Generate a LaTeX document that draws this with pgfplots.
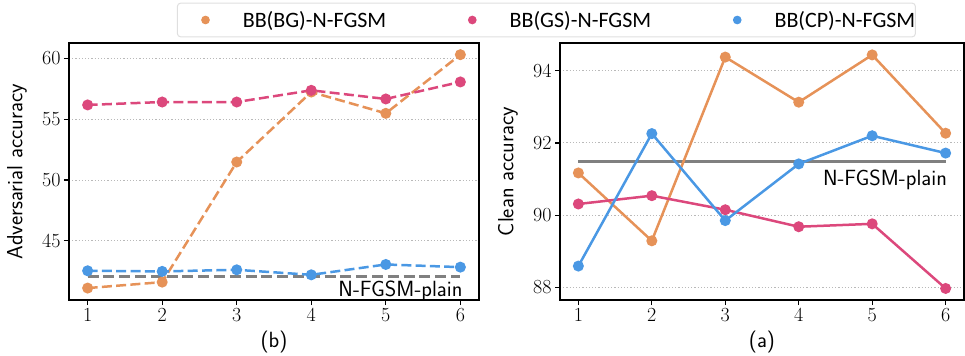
\documentclass[border=0pt]{standalone}
\usepackage{fontspec}
\usepackage{pgfplots}
\pgfplotsset{compat=1.18}
\newfontfamily\legfont{Carlito}
\definecolor{cO}{RGB}{230,146,88}
\definecolor{cP}{RGB}{220,72,124}
\definecolor{cB}{RGB}{74,152,228}
\definecolor{cG}{RGB}{128,128,128}
\pgfplotsset{
  myax/.style={
    scale only axis, width=410bp, height=257bp,
    anchor=south west,
    xmin=0.75, xmax=6.25, xtick={1,2,3,4,5,6},
    axis line style={line width=1.3bp},
    every tick/.style={black, line width=1.2bp},
    major tick length=5bp, tick align=outside,
    xtick pos=bottom, ytick pos=left,
    ymajorgrids, grid style={line width=1bp, gray!55, dash pattern=on 1.2bp off 2bp},
    /pgf/number format/assume math mode=true,
    tick label style={font=\rmfamily\fontsize{20bp}{24bp}\selectfont},
    label style={font=\sffamily\fontsize{22bp}{26bp}\selectfont},
    xlabel style={at={(axis description cs:0.5,0)}, anchor=center, yshift=-42bp},
    clip=false,
  },
  ln/.style={line width=2.5bp, color=#1, mark=*, mark size=4.2bp, mark options={solid, draw=none, fill=#1}},
  dsh/.style={dash pattern=on 10bp off 4.3bp},
}
\begin{document}
\begin{tikzpicture}
\useasboundingbox (0,0) rectangle (965bp,356bp);
% ---------------- left panel (b)
\begin{axis}[myax, at={(69bp,56bp)},
  ymin=40.14, ymax=61.26, ytick={45,50,55,60},
  xlabel={(b)}, ylabel={Adversarial accuracy},
  ylabel style={at={(axis description cs:-0.1268,0.5)}, anchor=center},
  legend columns=3,
  legend image code/.code={\path[draw=none, fill=none] (-28bp,-4bp) rectangle (4bp,4bp); \fill (0bp,0bp) circle (3.8bp);},
  legend style={at={(axis description cs:0.2634,1.0895)}, anchor=west,
    draw=gray!25, line width=1bp, rounded corners=3bp, inner xsep=0bp, inner ysep=8bp,
    font=\legfont\fontsize{22bp}{26bp}\selectfont,
    nodes={inner sep=0pt, anchor=west},
    /tikz/every odd column/.append style={column sep=33bp},
    /tikz/every even column/.append style={column sep=58bp}},
]
\addplot[cG, line width=3bp, dash pattern=on 11bp off 4.8bp, forget plot] coordinates {(1,42.05)(6,42.05)};
\addplot[ln=cO, dsh, forget plot] coordinates {(1,41.12)(2,41.61)(3,51.48)(4,57.23)(5,55.48)(6,60.30)};
\addplot[ln=cP, dsh, forget plot] coordinates {(1,56.17)(2,56.41)(3,56.41)(4,57.37)(5,56.66)(6,58.06)};
\addplot[ln=cB, dsh, forget plot] coordinates {(1,42.54)(2,42.49)(3,42.62)(4,42.21)(5,43.06)(6,42.84)};
\node[anchor=north east, inner sep=0pt, font=\sffamily\fontsize{22bp}{26bp}\selectfont] at (axis cs:6.03,42.05) [yshift=-4bp] {N-FGSM-plain};
\addlegendimage{color=cO}
\addlegendentry{BB(BG)-N-FGSM}
\addlegendimage{color=cP}
\addlegendentry{BB(GS)-N-FGSM}
\addlegendimage{color=cB}
\addlegendentry{BB(CP)-N-FGSM}
\end{axis}
% ---------------- right panel (a)
\begin{axis}[myax, at={(560bp,56bp)}, width=404bp,
  ymin=87.65, ymax=94.77, ytick={88,90,92,94},
  xlabel={(a)}, ylabel={Clean accuracy},
  ylabel style={at={(axis description cs:-0.1287,0.5)}, anchor=center},
]
\addplot[cG, line width=3bp] coordinates {(1,91.48)(6,91.48)};
\addplot[ln=cO] coordinates {(1,91.17)(2,89.29)(3,94.38)(4,93.13)(5,94.44)(6,92.27)};
\addplot[ln=cP] coordinates {(1,90.31)(2,90.54)(3,90.15)(4,89.68)(5,89.76)(6,87.97)};
\addplot[ln=cB] coordinates {(1,88.59)(2,92.26)(3,89.85)(4,91.42)(5,92.20)(6,91.72)};
\node[anchor=north east, inner sep=0pt, font=\sffamily\fontsize{22bp}{26bp}\selectfont] at (axis cs:6.02,91.48) [yshift=-7.5bp] {N-FGSM-plain};
\end{axis}
\end{tikzpicture}
\end{document}
